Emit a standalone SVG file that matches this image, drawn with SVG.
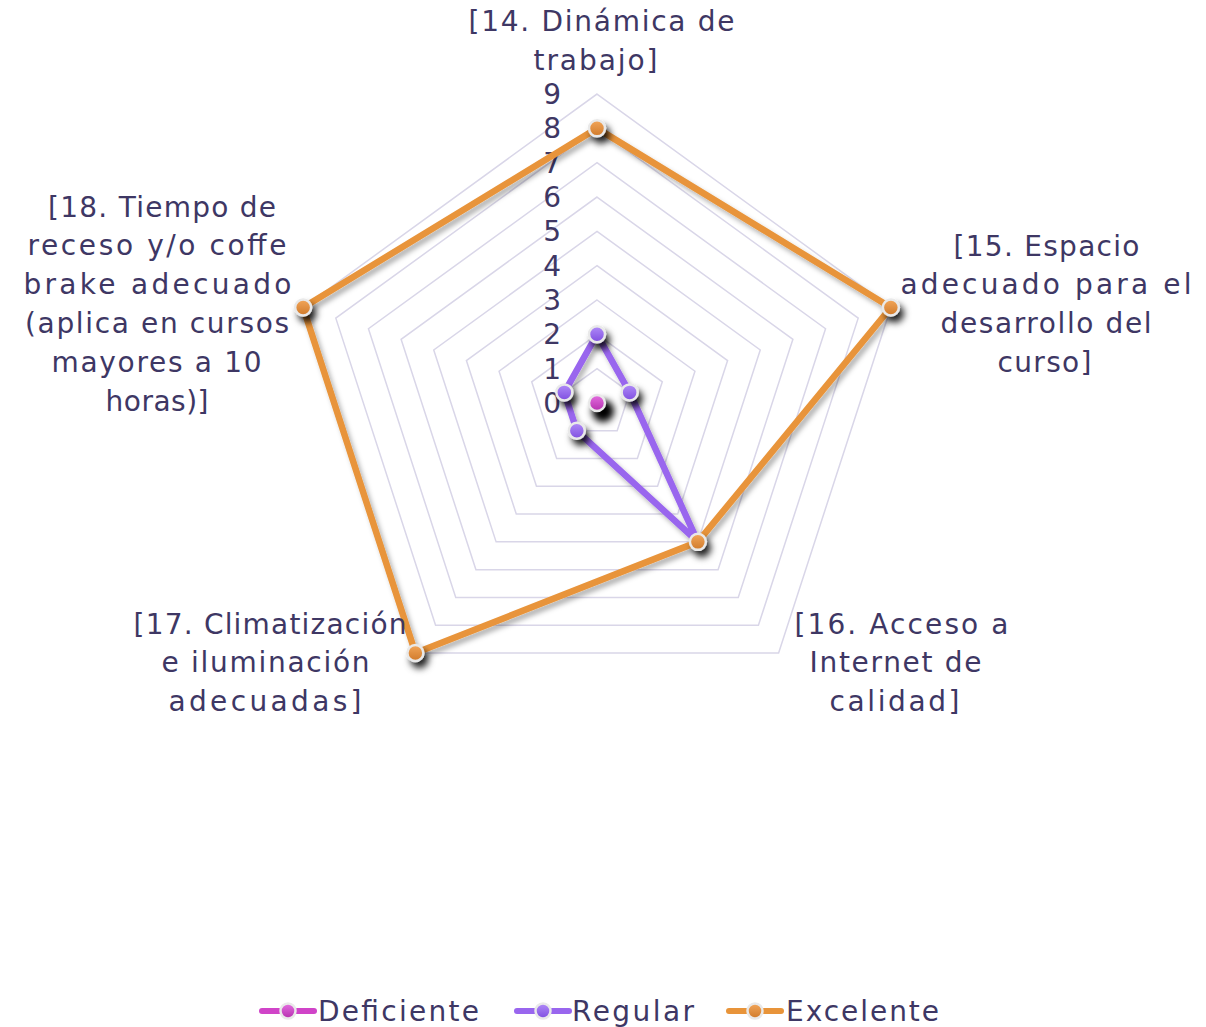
<svg xmlns="http://www.w3.org/2000/svg" width="1206" height="1027" viewBox="0 0 1206 1027">
<style>
.lbl{font-family:"DejaVu Sans","Liberation Sans",sans-serif;font-size:28px;fill:#3e3764;text-anchor:middle}
.tick{font-family:"DejaVu Sans","Liberation Sans",sans-serif;font-size:28px;fill:#3e3764;text-anchor:end}
.leg{font-family:"DejaVu Sans","Liberation Sans",sans-serif;font-size:28px;fill:#3e3764}
.grid{fill:none;stroke:#d9d6e8;stroke-width:1.5}
.ser{fill:none;stroke-width:6.5;stroke-linejoin:round;stroke-linecap:round}
.mk{stroke:#e9e9e9;stroke-width:2.5}
</style>
<defs>
<filter id="lsh" x="-10%" y="-10%" width="130%" height="130%">
<feDropShadow dx="3" dy="4" stdDeviation="2.5" flood-color="#000" flood-opacity="0.3"/>
</filter>
<filter id="msh" x="-100%" y="-100%" width="300%" height="300%">
<feDropShadow dx="4" dy="6" stdDeviation="3.5" flood-color="#000" flood-opacity="0.85"/>
</filter>
<filter id="blur" x="-100%" y="-100%" width="300%" height="300%">
<feGaussianBlur stdDeviation="3.5"/>
</filter>
<linearGradient id="gO" x1="0" y1="0" x2="0" y2="1"><stop offset="0" stop-color="#f2a65a"/><stop offset="1" stop-color="#d07a2a"/></linearGradient>
<linearGradient id="gP" x1="0" y1="0" x2="0" y2="1"><stop offset="0" stop-color="#b08af8"/><stop offset="1" stop-color="#7f4fe0"/></linearGradient>
<linearGradient id="gM" x1="0" y1="0" x2="0" y2="1"><stop offset="0" stop-color="#e46ee0"/><stop offset="1" stop-color="#b530ae"/></linearGradient>
</defs>
<rect width="1206" height="1027" fill="#ffffff"/>
<g id="grid">
<polygon class="grid" points="597,368.67 629.65,392.39 617.18,430.77 576.82,430.77 564.35,392.39"/>
<polygon class="grid" points="597,334.34 662.30,381.78 637.36,458.55 556.64,458.55 531.70,381.78"/>
<polygon class="grid" points="597,300.01 694.95,371.17 657.54,486.32 536.46,486.32 499.05,371.17"/>
<polygon class="grid" points="597,265.68 727.60,360.57 677.72,514.10 516.28,514.10 466.40,360.57"/>
<polygon class="grid" points="597,231.35 760.25,349.96 697.89,541.87 496.11,541.87 433.75,349.96"/>
<polygon class="grid" points="597,197.02 792.90,339.35 718.07,569.64 475.93,569.64 401.10,339.35"/>
<polygon class="grid" points="597,162.69 825.55,328.74 738.25,597.42 455.75,597.42 368.45,328.74"/>
<polygon class="grid" points="597,128.36 858.20,318.13 758.43,625.19 435.57,625.19 335.80,318.13"/>
<polygon class="grid" points="597,94.03 890.85,307.52 778.61,652.96 415.39,652.96 303.15,307.52"/>
</g>
<g id="ticks">
<text class="tick" x="561" y="413">0</text>
<text class="tick" x="561" y="379">1</text>
<text class="tick" x="561" y="344">2</text>
<text class="tick" x="561" y="310">3</text>
<text class="tick" x="561" y="276">4</text>
<text class="tick" x="561" y="241">5</text>
<text class="tick" x="561" y="207">6</text>
<text class="tick" x="561" y="173">7</text>
<text class="tick" x="561" y="138">8</text>
<text class="tick" x="561" y="104">9</text>
</g>
<g id="connectors">
<polygon id="regular-line" class="ser" stroke="#9966ee" filter="url(#lsh)" points="597,334.34 629.65,392.39 697.89,541.87 576.82,430.77 564.35,392.39"/>
<polygon id="excelente-line" class="ser" stroke="#e8943a" filter="url(#lsh)" points="597,128.36 890.85,307.52 697.89,541.87 415.39,652.96 303.15,307.52"/>
</g>
<g id="deficiente-markers">
<circle cx="603" cy="411" r="11" fill="#000" filter="url(#blur)"/>
<circle class="mk" cx="597" cy="403" r="8" fill="url(#gM)"/>
</g>
<g id="regular-markers" filter="url(#msh)">
<circle class="mk" cx="597" cy="334.34" r="8" fill="url(#gP)"/>
<circle class="mk" cx="629.65" cy="392.39" r="8" fill="url(#gP)"/>
<circle class="mk" cx="576.82" cy="430.77" r="8" fill="url(#gP)"/>
<circle class="mk" cx="564.35" cy="392.39" r="8" fill="url(#gP)"/>
</g>
<g id="excelente-markers" filter="url(#msh)">
<circle class="mk" cx="597" cy="128.36" r="8" fill="url(#gO)"/>
<circle class="mk" cx="890.85" cy="307.52" r="8" fill="url(#gO)"/>
<circle class="mk" cx="697.89" cy="541.87" r="8" fill="url(#gO)"/>
<circle class="mk" cx="415.39" cy="652.96" r="8" fill="url(#gO)"/>
<circle class="mk" cx="303.15" cy="307.52" r="8" fill="url(#gO)"/>
</g>
<g id="label-14">
<text class="lbl" x="601.5" y="31" textLength="266" lengthAdjust="spacing">[14. Dinámica de</text>
<text class="lbl" x="595.5" y="70" textLength="124" lengthAdjust="spacing">trabajo]</text>
</g>
<g id="label-15">
<text class="lbl" x="1046.5" y="255.5" textLength="186" lengthAdjust="spacing">[15. Espacio</text>
<text class="lbl" x="1046" y="294.3" textLength="291" lengthAdjust="spacing">adecuado para el</text>
<text class="lbl" x="1046" y="333" textLength="211" lengthAdjust="spacing">desarrollo del</text>
<text class="lbl" x="1044.5" y="371.8" textLength="94" lengthAdjust="spacing">curso]</text>
</g>
<g id="label-16">
<text class="lbl" x="901.5" y="633.5" textLength="214" lengthAdjust="spacing">[16. Acceso a</text>
<text class="lbl" x="895.5" y="672.3" textLength="172" lengthAdjust="spacing">Internet de</text>
<text class="lbl" x="894.5" y="711" textLength="130" lengthAdjust="spacing">calidad]</text>
</g>
<g id="label-17">
<text class="lbl" x="270" y="633.5" textLength="273" lengthAdjust="spacing">[17. Climatización</text>
<text class="lbl" x="265.5" y="672.3" textLength="208" lengthAdjust="spacing">e iluminación</text>
<text class="lbl" x="265" y="711" textLength="193" lengthAdjust="spacing">adecuadas]</text>
</g>
<g id="label-18">
<text class="lbl" x="162" y="216.5" textLength="228" lengthAdjust="spacing">[18. Tiempo de</text>
<text class="lbl" x="157" y="255.3" textLength="259" lengthAdjust="spacing">receso y/o coffe</text>
<text class="lbl" x="157.5" y="294" textLength="268" lengthAdjust="spacing">brake adecuado</text>
<text class="lbl" x="157" y="333" textLength="264" lengthAdjust="spacing">(aplica en cursos</text>
<text class="lbl" x="156.5" y="371.7" textLength="210" lengthAdjust="spacing">mayores a 10</text>
<text class="lbl" x="157" y="410.5" textLength="103" lengthAdjust="spacing">horas)]</text>
</g>
<g id="legend">
<g id="legend-deficiente">
<line x1="262" y1="1011" x2="314" y2="1011" stroke="#d044c8" stroke-width="6" stroke-linecap="round"/>
<circle class="mk" cx="288" cy="1011" r="7.5" fill="url(#gM)"/>
<text class="leg" x="318" y="1021" textLength="161" lengthAdjust="spacing">Deficiente</text>
</g>
<g id="legend-regular">
<line x1="517" y1="1011" x2="569" y2="1011" stroke="#9966ee" stroke-width="6" stroke-linecap="round"/>
<circle class="mk" cx="543" cy="1011" r="7.5" fill="url(#gP)"/>
<text class="leg" x="572" y="1021" textLength="122" lengthAdjust="spacing">Regular</text>
</g>
<g id="legend-excelente">
<line x1="729" y1="1011" x2="781" y2="1011" stroke="#e8943a" stroke-width="6" stroke-linecap="round"/>
<circle class="mk" cx="755" cy="1011" r="7.5" fill="url(#gO)"/>
<text class="leg" x="786" y="1021" textLength="153" lengthAdjust="spacing">Excelente</text>
</g>
</g>
</svg>
